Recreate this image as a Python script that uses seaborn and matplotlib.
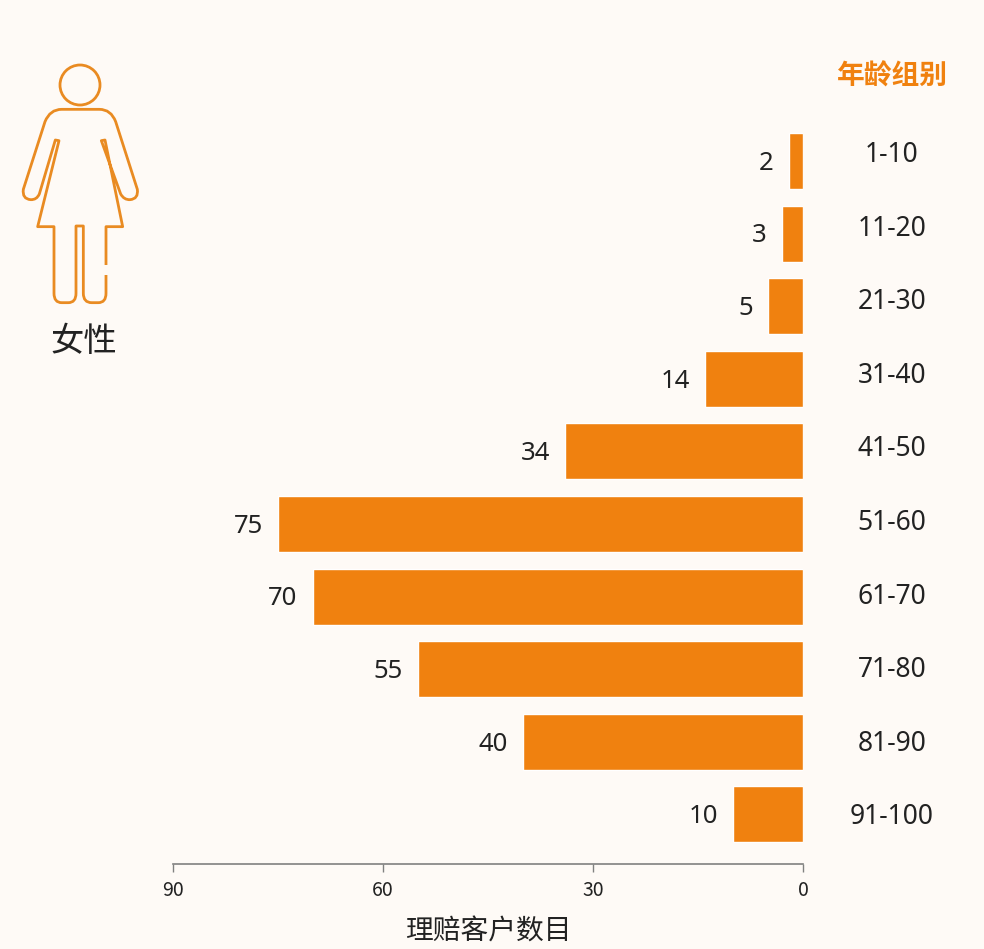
import pandas as pd
import seaborn as sns
import matplotlib.pyplot as plt
from matplotlib.path import Path
from matplotlib.patches import PathPatch, Circle

age_groups = ['1-10', '11-20', '21-30', '31-40', '41-50', '51-60', '61-70', '71-80', '81-90', '91-100']
claims = [2, 3, 5, 14, 34, 75, 70, 55, 40, 10]
x_ticks = [90, 60, 30, 0]

W, H = 984, 949
BG = '#FEFAF6'
ORANGE = '#F0810F'
ICON = '#E98B22'
INK = '#222222'
CJK = ['Noto Sans CJK SC', 'DejaVu Sans']
LATIN = ['Noto Sans', 'DejaVu Sans']

sns.set_theme(style='white')
plt.rcParams['font.family'] = CJK

df = pd.DataFrame({'age': age_groups, 'claims': claims})

fig = plt.figure(figsize=(W / 100, H / 100), dpi=100, facecolor=BG)
# axes box in pixels: x 173-803, y 125-864
ax = fig.add_axes([173 / W, 1 - 864 / H, 630 / W, 739 / H], facecolor='none')
sns.barplot(data=df, x='claims', y='age', color=ORANGE, saturation=1, width=0.77, ax=ax)

ax.set_xlim(90, 0)
ax.set_ylim(9.683, -0.496)
value_labels = ax.bar_label(ax.containers[0], padding=11, fontsize=18.5, color=INK, family=LATIN)
for t in value_labels:
    # nudge down a little, the digits sit high in the line box
    t.xyann = (t.xyann[0], t.xyann[1] - 1.6)

for s in ['top', 'left', 'right']:
    ax.spines[s].set_visible(False)
ax.spines['bottom'].set_color('#808080')
ax.spines['bottom'].set_linewidth(1.2)

ax.set_xticks(x_ticks)
ax.tick_params(axis='x', bottom=True, length=6, width=1, color='#808080', labelsize=14, labelcolor=INK, pad=5.5)
ax.set_xlabel('理赔客户数目', fontsize=20, color=INK, labelpad=11)

# the age labels sit on a slightly wider pitch than the bars
ax.yaxis.tick_right()
ax.set_ylabel('')
label_rows = [(p - 161.5) / 72.6 for p in [152, 226, 299, 373, 446, 520, 594, 667, 741, 814]]
ax.set_yticks(label_rows, age_groups, family=LATIN)
ax.tick_params(axis='y', right=False, length=0, pad=64, labelsize=19, labelcolor=INK)
for t in ax.get_yticklabels():
    t.set_ha('center')

# overlay in pixel coordinates for the icon and free text
ov = fig.add_axes([0, 0, 1, 1], facecolor='none')
ov.set_xlim(0, W)
ov.set_ylim(H, 0)
ov.axis('off')

ov.text(892, 77, '年龄组别', fontsize=20, fontweight='bold', color=ORANGE, ha='center', va='center')
ov.text(84, 341, '女性', fontsize=24, color=INK, ha='center', va='center')

# figure outline (zoomed coordinates: /3, y offset 50)
M, L, C = Path.MOVETO, Path.LINETO, Path.CURVE3
outline = [
    (M, 318, 675), (L, 318, 730), (C, 318, 758), (C, 295, 758), (L, 275, 758), (C, 250, 758), (C, 250, 730),
    (L, 250, 528), (L, 228, 528), (L, 228, 730), (C, 228, 758), (C, 205, 758), (L, 185, 758), (C, 162, 758),
    (C, 162, 730), (L, 162, 530), (L, 113, 530), (L, 177, 272), (L, 166, 270), (L, 118, 432), (C, 110, 450),
    (C, 92, 449), (C, 66, 447), (C, 70, 418), (L, 135, 215), (C, 150, 178), (C, 185, 178), (L, 298, 178),
    (C, 333, 178), (C, 347, 215), (L, 412, 418), (C, 416, 447), (C, 390, 449), (C, 372, 450), (C, 362, 432),
    (L, 304, 272), (L, 315, 270), (L, 368, 530), (L, 318, 530), (L, 318, 645),
]
codes = [row[0] for row in outline]
verts = [(row[1] / 3, 50 + row[2] / 3) for row in outline]
ov.add_patch(PathPatch(Path(verts, codes), fill=False, edgecolor=ICON, linewidth=2, joinstyle='round'))
ov.add_patch(Circle((80, 85), 20, fill=False, edgecolor=ICON, linewidth=2))

fig.savefig('out.png', dpi=100, facecolor=BG)
